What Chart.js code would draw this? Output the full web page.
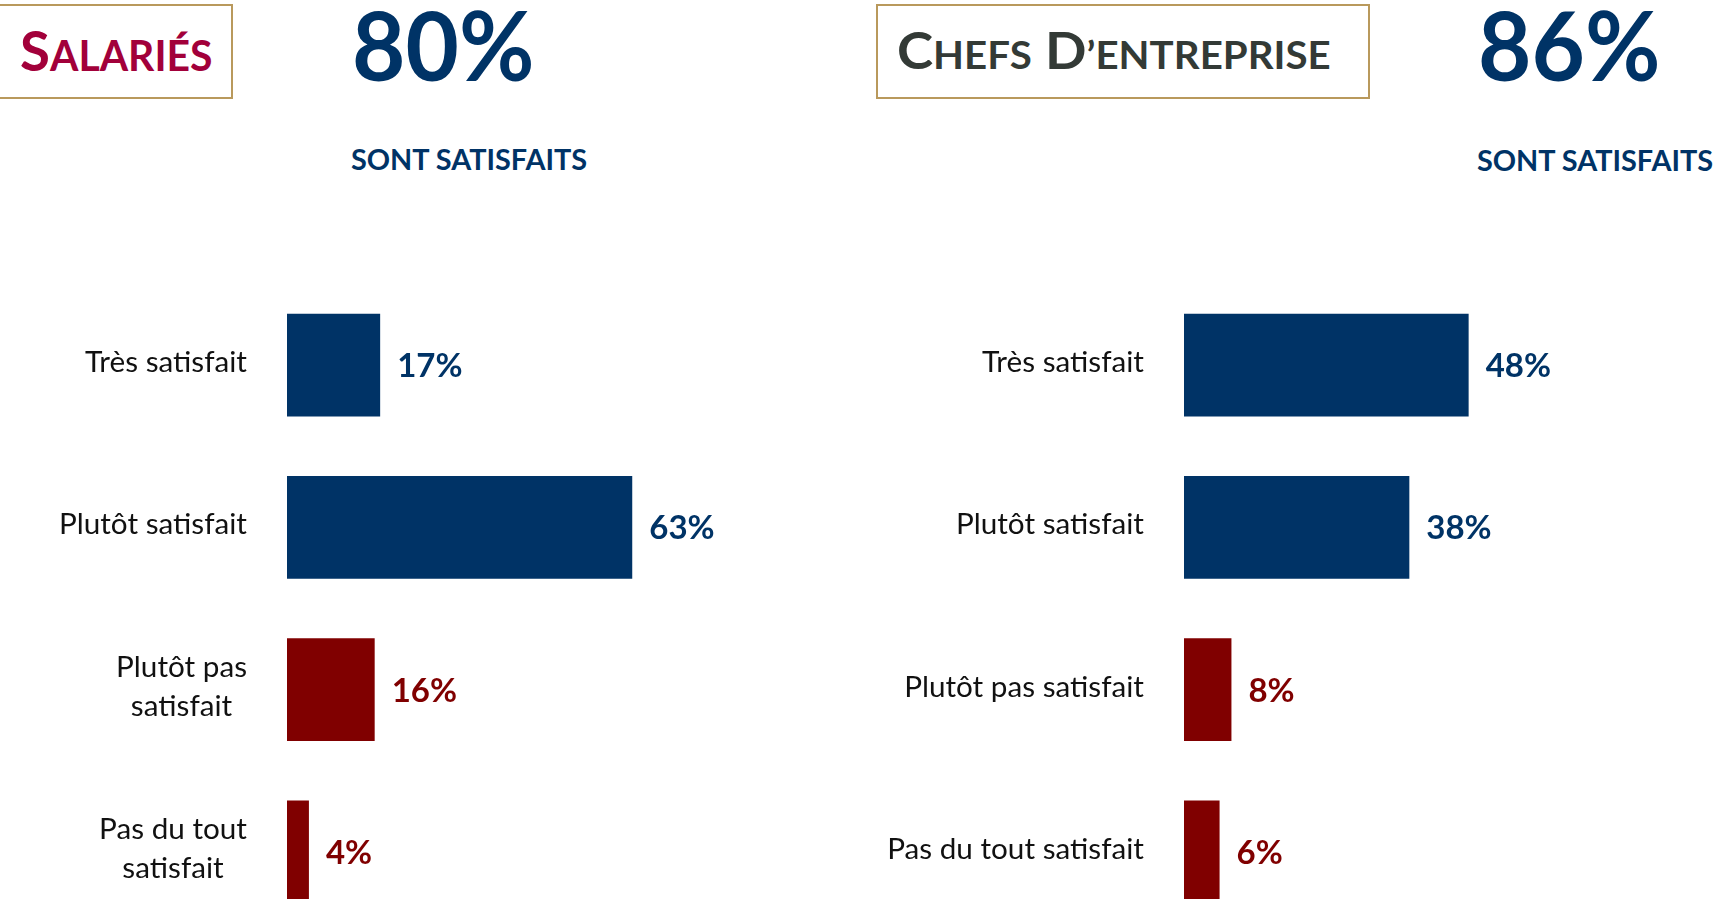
<!DOCTYPE html>
<html>
<head>
<meta charset="utf-8">
<script src="https://cdn.jsdelivr.net/npm/chart.js@4.4.1/dist/chart.umd.min.js"></script>
<style>
  html, body { margin: 0; padding: 0; width: 1718px; height: 899px; overflow: hidden; background: #ffffff; }
  body { position: relative; font-family: Lato, "Open Sans", sans-serif; }
  .abs { position: absolute; white-space: nowrap; line-height: normal; transform-origin: 0 0; }
  .box { position: absolute; box-sizing: border-box; border: 2px solid #B9995C; background: #fff; }
  .sc, .big, .sub { font-weight: 700; }
  .chartwrap { position: absolute; }
</style>
</head>
<body>
  <div class="box" style="left:-6px; top:4px; width:239px; height:95px;"></div>
  <div class="abs sc" id="t1" style="left:20px; top:16px; font-size:56px; color:#A2003A; transform:scaleX(0.975);"><span>S</span><span style="font-size:42px">ALARIÉS</span></div>
  <div class="abs big" id="p1" style="left:352px; top:-13px; font-size:95px; color:#003366; transform:scaleX(0.97);"></div>
  <div class="abs sub" id="s1" style="left:351px; top:142px; font-size:28px; color:#003366; transform:scaleX(1.03);">SONT SATISFAITS</div>

  <div class="box" style="left:876px; top:4px; width:494px; height:95px;"></div>
  <div class="abs sc" id="t2" style="left:897px; top:17px; font-size:52.5px; color:#333A36; transform:scaleX(1.04);"><span>C</span><span style="font-size:38.7px">HEFS</span> <span>D</span><span style="font-size:38.7px">’ENTREPRISE</span></div>
  <div class="abs big" id="p2" style="left:1478px; top:-13px; font-size:95px; color:#003366; transform:scaleX(0.97);"></div>
  <div class="abs sub" id="s2" style="left:1477px; top:143px; font-size:28px; color:#003366; transform:scaleX(1.03);">SONT SATISFAITS</div>

  <div class="chartwrap" style="left:0px; top:284px; width:860px; height:649px;"><canvas id="c1"></canvas></div>
  <div class="chartwrap" style="left:860px; top:284px; width:858px; height:649px;"><canvas id="c2"></canvas></div>

<script>
// ---- data ----
const salariesCategories = ['Très satisfait', 'Plutôt satisfait', ['Plutôt pas', 'satisfait'], ['Pas du tout', 'satisfait']];
const salariesValues = [17, 63, 16, 4];
const salariesSatisfied = 80;

const chefsCategories = ['Très satisfait', 'Plutôt satisfait', 'Plutôt pas satisfait', 'Pas du tout satisfait'];
const chefsValues = [48, 38, 8, 6];
const chefsSatisfied = 86;

// ---- style ----
const NAVY = '#003366';
const MAROON = '#800000';
const barColors = [NAVY, NAVY, MAROON, MAROON];
const CAT_SCALE_X = 1.06;

document.getElementById('p1').textContent = salariesSatisfied + '%';
document.getElementById('p2').textContent = chefsSatisfied + '%';

const labelPlugin = {
  id: 'customLabels',
  afterDatasetsDraw(chart) {
    const ctx = chart.ctx;
    const area = chart.chartArea;
    const yScale = chart.scales.y;
    const meta = chart.getDatasetMeta(0);
    const data = chart.data.datasets[0].data;
    ctx.save();
    // category labels
    ctx.font = '28px Lato, "Open Sans", sans-serif';
    ctx.fillStyle = '#111111';
    ctx.textBaseline = 'alphabetic';
    ctx.textAlign = 'center';
    chart.data.labels.forEach((lab, i) => {
      const lines = Array.isArray(lab) ? lab : [lab];
      const y = yScale.getPixelForValue(i);
      const right = area.left - 40;
      const maxW = Math.max(...lines.map(l => ctx.measureText(l).width)) * CAT_SCALE_X;
      const cx = right - maxW / 2;
      lines.forEach((l, j) => {
        const ly = y + 7 + (j - (lines.length - 1) / 2) * 39;
        ctx.save();
        ctx.translate(cx, ly);
        ctx.scale(CAT_SCALE_X, 1);
        ctx.fillText(l, 0, 0);
        ctx.restore();
      });
    });
    // value labels
    ctx.font = 'bold 33px Lato, "Open Sans", sans-serif';
    ctx.textAlign = 'left';
    meta.data.forEach((bar, i) => {
      ctx.fillStyle = barColors[i];
      ctx.fillText(data[i] + '%', bar.x + 17, bar.y + 12);
    });
    ctx.restore();
  }
};

function makeChart(id, labels, values, padLeft, padRight, xMax) {
  return new Chart(document.getElementById(id), {
    type: 'bar',
    data: {
      labels: labels,
      datasets: [{
        data: values,
        backgroundColor: barColors,
        borderWidth: 0,
        barPercentage: 0.632,
        categoryPercentage: 1.0
      }]
    },
    options: {
      indexAxis: 'y',
      responsive: true,
      maintainAspectRatio: false,
      animation: false,
      layout: { padding: { left: padLeft, right: padRight, top: 0, bottom: 0 } },
      plugins: { legend: { display: false }, tooltip: { enabled: false } },
      scales: {
        x: { display: false, min: 0, max: xMax },
        y: { display: false }
      }
    },
    plugins: [labelPlugin]
  });
}

makeChart('c1', salariesCategories, salariesValues, 287, 25, 100);
makeChart('c2', chefsCategories, chefsValues, 324, 59.6, 80);
</script>
</body>
</html>
